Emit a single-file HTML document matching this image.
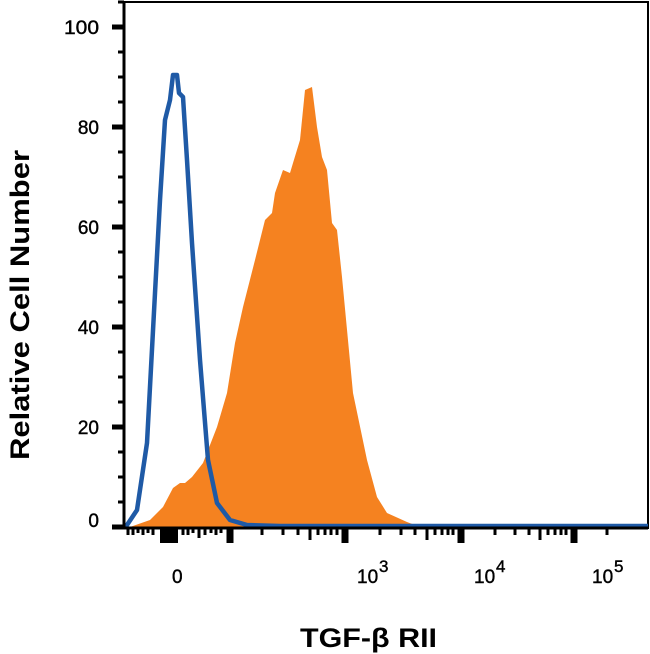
<!DOCTYPE html>
<html><head><style>body{margin:0;background:#fff}svg{display:block}</style></head><body>
<svg width="650" height="654" viewBox="0 0 650 654" xmlns="http://www.w3.org/2000/svg" font-family="Liberation Sans, sans-serif">
<rect x="124" y="2" width="524" height="526" fill="none" stroke="#000" stroke-width="2"/>
<polygon fill="#f58220" points="128,528 130,527 150,520 163,507 173,488 180,483 185,483 192,477 203,463 217,427 227,393 235,343 243,307 255,260 265,220 272,213 275,193 283,170 290,173 293,163 300,140 305,90 312,87 317,127 322,157 327,170 332,223 337,230 342,277 353,393 367,460 377,497 387,513 407,522 420,527 420,528"/>
<polyline fill="none" stroke="#1f5aa6" stroke-width="4.5" stroke-linejoin="round" points="124,527 127,525 137,510 147,443 155,293 160,200 165,120 170,100 173,75 177,75 179,93 183,97 187,160 192,243 200,360 208,460 217,503 230,520 247,525 280,526 648,526"/>
<g stroke="#000">
<line x1="124" y1="2" x2="124" y2="528" stroke-width="3"/>
<line x1="112" y1="27" x2="124" y2="27" stroke-width="5"/>
<line x1="112" y1="127" x2="124" y2="127" stroke-width="5"/>
<line x1="112" y1="227" x2="124" y2="227" stroke-width="5"/>
<line x1="112" y1="327" x2="124" y2="327" stroke-width="5"/>
<line x1="112" y1="427" x2="124" y2="427" stroke-width="5"/>
<line x1="112" y1="527" x2="124" y2="527" stroke-width="5"/>
<g stroke-width="3">
<line x1="118" y1="2" x2="124" y2="2"/><line x1="118" y1="52" x2="124" y2="52"/><line x1="118" y1="77" x2="124" y2="77"/><line x1="118" y1="102" x2="124" y2="102"/>
<line x1="118" y1="152" x2="124" y2="152"/><line x1="118" y1="177" x2="124" y2="177"/><line x1="118" y1="202" x2="124" y2="202"/>
<line x1="118" y1="252" x2="124" y2="252"/><line x1="118" y1="277" x2="124" y2="277"/><line x1="118" y1="302" x2="124" y2="302"/>
<line x1="118" y1="352" x2="124" y2="352"/><line x1="118" y1="377" x2="124" y2="377"/><line x1="118" y1="402" x2="124" y2="402"/>
<line x1="118" y1="452" x2="124" y2="452"/><line x1="118" y1="477" x2="124" y2="477"/><line x1="118" y1="502" x2="124" y2="502"/>
</g>
<line x1="124" y1="528" x2="648" y2="528" stroke-width="3"/>
<g stroke-width="3">
<line x1="128" y1="528" x2="128" y2="535"/><line x1="133" y1="528" x2="133" y2="535"/><line x1="138" y1="528" x2="138" y2="533"/><line x1="143" y1="528" x2="143" y2="535"/><line x1="148" y1="528" x2="148" y2="533"/><line x1="153" y1="528" x2="153" y2="535"/>
<line x1="183" y1="528" x2="183" y2="535"/><line x1="188" y1="528" x2="188" y2="535"/><line x1="193" y1="528" x2="193" y2="533"/><line x1="199" y1="528" x2="199" y2="538"/><line x1="205" y1="528" x2="205" y2="535"/><line x1="211" y1="528" x2="211" y2="533"/><line x1="216" y1="528" x2="216" y2="535"/><line x1="221" y1="528" x2="221" y2="533"/>
<line x1="262" y1="528" x2="262" y2="535"/><line x1="283" y1="528" x2="283" y2="535"/><line x1="298" y1="528" x2="298" y2="535"/><line x1="310" y1="528" x2="310" y2="540"/><line x1="318" y1="528" x2="318" y2="535"/><line x1="325" y1="528" x2="325" y2="535"/><line x1="331" y1="528" x2="331" y2="535"/><line x1="337" y1="528" x2="337" y2="535"/>
<line x1="380" y1="528" x2="380" y2="535"/><line x1="401" y1="528" x2="401" y2="535"/><line x1="415" y1="528" x2="415" y2="535"/><line x1="427" y1="528" x2="427" y2="540"/><line x1="435" y1="528" x2="435" y2="535"/><line x1="442" y1="528" x2="442" y2="535"/><line x1="448" y1="528" x2="448" y2="535"/><line x1="453" y1="528" x2="453" y2="535"/>
<line x1="495" y1="528" x2="495" y2="535"/><line x1="515" y1="528" x2="515" y2="535"/><line x1="529" y1="528" x2="529" y2="535"/><line x1="540" y1="528" x2="540" y2="540"/><line x1="548" y1="528" x2="548" y2="535"/><line x1="555" y1="528" x2="555" y2="535"/><line x1="561" y1="528" x2="561" y2="535"/><line x1="566" y1="528" x2="566" y2="535"/>
<line x1="607" y1="528" x2="607" y2="535"/>
</g>
<g stroke-width="7">
<line x1="230" y1="528" x2="230" y2="543"/><line x1="345" y1="528" x2="345" y2="543"/><line x1="461" y1="528" x2="461" y2="543"/><line x1="574" y1="528" x2="574" y2="543"/>
</g>
<rect x="160" y="528" width="18" height="15" fill="#000" stroke="none"/>
</g>
<g font-size="19" fill="#000" text-anchor="end" stroke="#000" stroke-width="0.4">
<text x="99" y="34" textLength="35" lengthAdjust="spacingAndGlyphs">100</text><text x="99" y="134">80</text><text x="99" y="234">60</text><text x="99" y="334">40</text><text x="99" y="434">20</text><text x="99" y="527">0</text>
</g>
<g font-size="19" fill="#000" stroke="#000" stroke-width="0.4">
<text x="172" y="583">0</text>
<text x="357" y="583">10</text><text x="379" y="572" font-size="17">3</text>
<text x="474" y="583">10</text><text x="496" y="572" font-size="17">4</text>
<text x="592" y="583">10</text><text x="614" y="572" font-size="17">5</text>
</g>
<text x="300" y="647" font-size="27" font-weight="bold" fill="#000" textLength="137" lengthAdjust="spacingAndGlyphs">TGF-β RII</text>
<text transform="translate(29,460) rotate(-90)" font-size="27" font-weight="bold" fill="#000" textLength="310" lengthAdjust="spacingAndGlyphs">Relative Cell Number</text>
</svg>
</body></html>
